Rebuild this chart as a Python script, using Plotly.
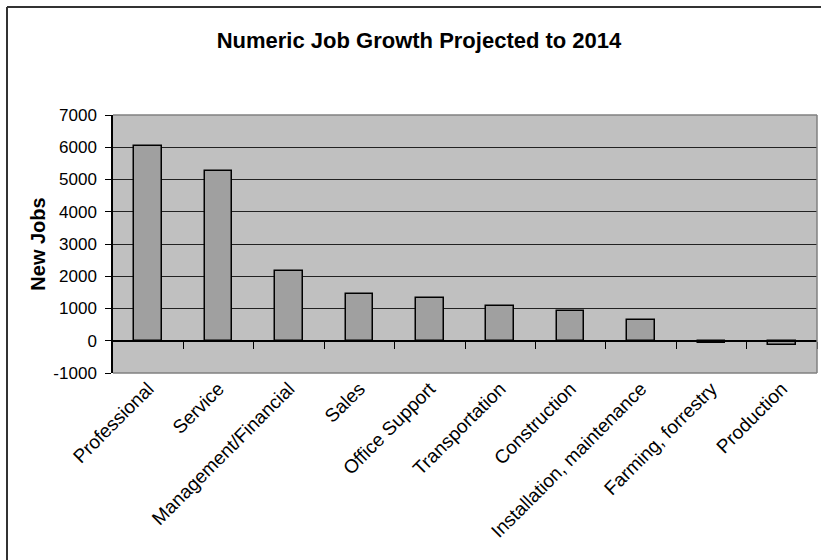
import plotly.graph_objects as go

# Occupation groups and projected new jobs
categories = [
    "Professional",
    "Service",
    "Management/Financial",
    "Sales",
    "Office Support",
    "Transportation",
    "Construction",
    "Installation, maintenance",
    "Farming, forrestry",
    "Production",
]
new_jobs = [6040, 5260, 2150, 1450, 1340, 1080, 910, 640, -60, -120]

y_ticks = [-1000, 0, 1000, 2000, 3000, 4000, 5000, 6000, 7000]
y_tick_text = ["-1000", "0", "1000", "2000", "3000", "4000", "5000", "6000", "7000"]

W, H = 821, 560
M_L, M_R, M_T, M_B = 113, 4, 115, 187
Y_MIN, Y_MAX = y_ticks[0], y_ticks[-1]
FONT = "Liberation Sans, Arial, sans-serif"

idx = list(range(len(categories)))

fig = go.Figure()
fig.add_trace(go.Bar(
    x=idx,
    y=new_jobs,
    width=0.39,
    marker=dict(color="#A0A0A0", line=dict(color="#000000", width=1.5)),
    hoverinfo="x+y",
    showlegend=False,
))

# position of the value 0 inside the plot domain (category axis crosses there)
zero_pos = (0 - Y_MIN) / (Y_MAX - Y_MIN)

fig.update_layout(
    width=W,
    height=H,
    margin=dict(l=M_L, r=M_R, t=M_T, b=M_B),
    paper_bgcolor="#FFFFFF",
    plot_bgcolor="#C0C0C0",
    font=dict(family=FONT, size=16, color="#000000"),
    title=dict(
        text="<b>Numeric Job Growth Projected to 2014</b>",
        font=dict(family=FONT, size=22, color="#000000"),
        xref="container", x=419 / W, xanchor="center",
        yref="container", y=1 - 40 / H, yanchor="middle",
    ),
    bargap=0,
    xaxis=dict(
        range=[-0.5, len(categories) - 0.5],
        anchor="free",
        position=zero_pos,
        showgrid=False,
        zeroline=False,
        showline=True,
        linecolor="#000000",
        linewidth=1.5,
        ticks="outside",
        ticklen=7,
        tickcolor="#000000",
        tickwidth=1,
        tickmode="array",
        tickvals=[i + 0.5 for i in idx[:-1]] + [len(categories) - 0.5],
        showticklabels=False,
    ),
    xaxis2=dict(
        overlaying="x",
        anchor="y",
        side="bottom",
        range=[-0.5, len(categories) - 0.5],
        showgrid=False,
        zeroline=False,
        showline=False,
        ticks="",
        tickmode="array",
        tickvals=idx,
        ticktext=categories,
        tickangle=-45,
        tickfont=dict(family=FONT, size=19, color="#000000"),
    ),
    yaxis=dict(
        range=[Y_MIN, Y_MAX],
        tickmode="array",
        tickvals=y_ticks,
        ticktext=y_tick_text,
        showgrid=True,
        gridcolor="#222222",
        gridwidth=1,
        zeroline=False,
        showline=True,
        linecolor="#000000",
        linewidth=1.5,
        ticks="outside",
        ticklen=6,
        tickcolor="#000000",
        ticklabelstandoff=5,
        tickfont=dict(family=FONT, size=17, color="#000000"),
        title=dict(text="<b>New Jobs</b>", font=dict(family=FONT, size=20, color="#000000"), standoff=2),
    ),
)

# a dummy invisible trace keeps the label axis active
fig.add_trace(go.Scatter(x=idx, y=[None] * len(idx), xaxis="x2", yaxis="y",
                         mode="markers", showlegend=False, hoverinfo="skip"))

# plot-area frame on top, right and bottom
for x0, y0, x1, y1 in [(0, 1, 1, 1), (1, 0, 1, 1), (0, 0, 1, 0)]:
    fig.add_shape(type="line", xref="paper", yref="paper", x0=x0, y0=y0, x1=x1, y1=y1,
                  line=dict(color="#808080", width=1.5), layer="above")

# outer chart border (left and top edges inside the page)
pw, ph = W - M_L - M_R, H - M_T - M_B
bx = (7 - M_L) / pw
by = 1 + (M_T - 7) / ph
fig.add_shape(type="line", xref="paper", yref="paper", x0=bx, y0=by, x1=(W + 5 - M_L) / pw, y1=by,
              line=dict(color="#333333", width=2))
fig.add_shape(type="line", xref="paper", yref="paper", x0=bx, y0=by, x1=bx, y1=-(M_B + 5) / ph,
              line=dict(color="#333333", width=2))

fig.write_html("out.html")
